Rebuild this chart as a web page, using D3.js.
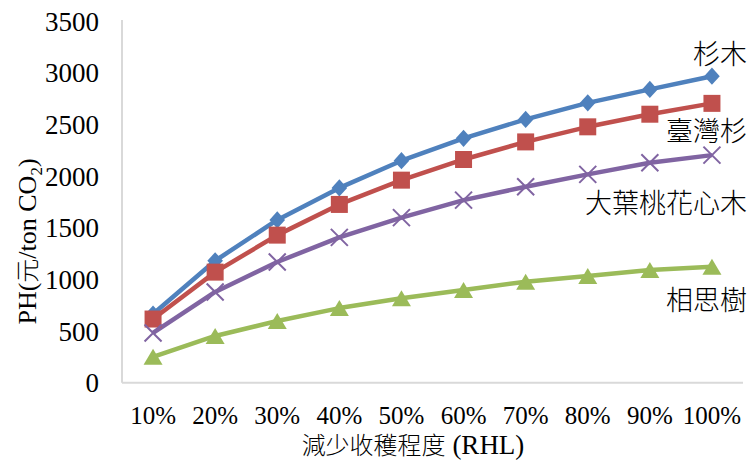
<!DOCTYPE html>
<html>
<head>
<meta charset="utf-8">
<script src="https://cdn.jsdelivr.net/npm/d3@7"></script>
<style>
  html, body { margin: 0; padding: 0; background: #fff; }
  svg { display: block; }
</style>
</head>
<body>
<svg id="chart" width="750" height="461"></svg>
<script>
// ---- data ----
const categories = ["10%", "20%", "30%", "40%", "50%", "60%", "70%", "80%", "90%", "100%"];
const seriesNames = ["杉木", "臺灣杉", "大葉桃花心木", "相思樹"];
const valsShanmu = [665, 1180, 1575, 1885, 2148, 2365, 2548, 2708, 2838, 2966];
const valsTaiwanshan = [616, 1070, 1428, 1725, 1960, 2160, 2330, 2476, 2598, 2703];
const valsMahogany = [481, 878, 1168, 1406, 1597, 1767, 1896, 2016, 2128, 2202];
const valsAcacia = [250, 452, 597, 722, 817, 897, 977, 1033, 1090, 1123];
const yTicks = [0, 500, 1000, 1500, 2000, 2500, 3000, 3500];
const xTitle = "減少收穫程度 (RHL)";

// ---- build ----
const series = [
  { name: seriesNames[0], values: valsShanmu, color: "#4F81BD", marker: "diamond", labelY: 54 },
  { name: seriesNames[1], values: valsTaiwanshan, color: "#C0504D", marker: "square", labelY: 131 },
  { name: seriesNames[2], values: valsMahogany, color: "#8064A2", marker: "x", labelY: 203 },
  { name: seriesNames[3], values: valsAcacia, color: "#9BBB59", marker: "triangle", labelY: 300 }
];

const svg = d3.select("#chart");
const pLeft = 122, pRight = 743, pTop = 21, pBottom = 382.7;

const x = d3.scaleBand().domain(categories).range([pLeft, pRight]).padding(0);
const y = d3.scaleLinear().domain([0, 3500]).range([pBottom, pTop]);
const cx = c => x(c) + x.bandwidth() / 2;

const serif = "'Liberation Serif', 'Times New Roman', serif";
const cjk = "'Noto Sans CJK TC', 'Noto Sans CJK SC', sans-serif";

// axis lines
svg.append("line").attr("x1", pLeft).attr("x2", pLeft).attr("y1", pTop - 1).attr("y2", pBottom)
  .attr("stroke", "#d9d9d9").attr("stroke-width", 2);
svg.append("line").attr("x1", pLeft).attr("x2", pRight).attr("y1", pBottom).attr("y2", pBottom)
  .attr("stroke", "#d9d9d9").attr("stroke-width", 2);

// y tick labels
const yAxis = d3.axisLeft(y).tickValues(yTicks).tickSize(0).tickPadding(23).tickFormat(d3.format("d"));
const gy = svg.append("g").attr("transform", `translate(${pLeft},0)`).call(yAxis);
gy.select(".domain").remove();
gy.selectAll("text").attr("font-family", serif).attr("font-size", 27).attr("fill", "#000")
  .attr("dy", "0.34em");

// x tick labels
const xAxis = d3.axisBottom(x).tickSize(0).tickPadding(0);
const gx = svg.append("g").attr("transform", `translate(0,${pBottom})`).call(xAxis);
gx.select(".domain").remove();
gx.selectAll("text").attr("font-family", serif).attr("font-size", 25).attr("fill", "#000")
  .attr("dy", null).attr("y", 41);

// axis titles
const yt = svg.append("text")
  .attr("transform", "translate(36,241.5) rotate(-90)")
  .attr("text-anchor", "middle")
  .attr("font-family", serif).attr("font-size", 26).attr("fill", "#000");
yt.append("tspan").text("PH(");
yt.append("tspan").attr("font-family", cjk).attr("font-weight", 300).attr("font-size", 24).text("元");
yt.append("tspan").text("/ton CO");
yt.append("tspan").attr("font-size", 17).attr("dy", 6).text("2");
yt.append("tspan").attr("dy", -6).text(")");

const xt = svg.append("text")
  .attr("x", 413).attr("y", 454)
  .attr("text-anchor", "middle")
  .attr("font-size", 24).attr("fill", "#000");
xt.append("tspan").attr("font-family", cjk).attr("font-weight", 300).text("減少收穫程度");
xt.append("tspan").attr("font-family", serif).attr("font-size", 27).text(" (RHL)");

// lines
const line = d3.line().x((d, i) => cx(categories[i])).y(d => y(d));
series.forEach(s => {
  svg.append("path").datum(s.values)
    .attr("d", line).attr("fill", "none")
    .attr("stroke", s.color).attr("stroke-width", 4.5).attr("stroke-linejoin", "round");
});

// markers
function markerPath(type, px, py) {
  if (type === "diamond") {
    const w = 7.8, h = 8.6;
    return `M${px},${py - h}L${px + w},${py}L${px},${py + h}L${px - w},${py}Z`;
  }
  if (type === "square") {
    const r = 8.5;
    return `M${px - r},${py - r}H${px + r}V${py + r}H${px - r}Z`;
  }
  if (type === "triangle") {
    const w = 9.5, h = 8;
    return `M${px},${py - h}L${px + w},${py + h}L${px - w},${py + h}Z`;
  }
  const r = 8.5;
  return `M${px - r},${py - r}L${px + r},${py + r}M${px - r},${py + r}L${px + r},${py - r}`;
}
series.forEach(s => {
  const g = svg.append("g");
  s.values.forEach((v, i) => {
    const px = cx(categories[i]), py = y(v);
    const p = g.append("path").attr("d", markerPath(s.marker, px, py));
    if (s.marker === "x") {
      p.attr("stroke", s.color).attr("stroke-width", 2).attr("fill", "none");
    } else {
      p.attr("fill", s.color);
    }
  });
  // series label
  svg.append("text")
    .attr("x", 747).attr("y", s.labelY)
    .attr("text-anchor", "end").attr("dy", "0.36em")
    .attr("font-family", cjk).attr("font-weight", 300).attr("font-size", 27).attr("fill", "#000")
    .text(s.name);
});
</script>
</body>
</html>
